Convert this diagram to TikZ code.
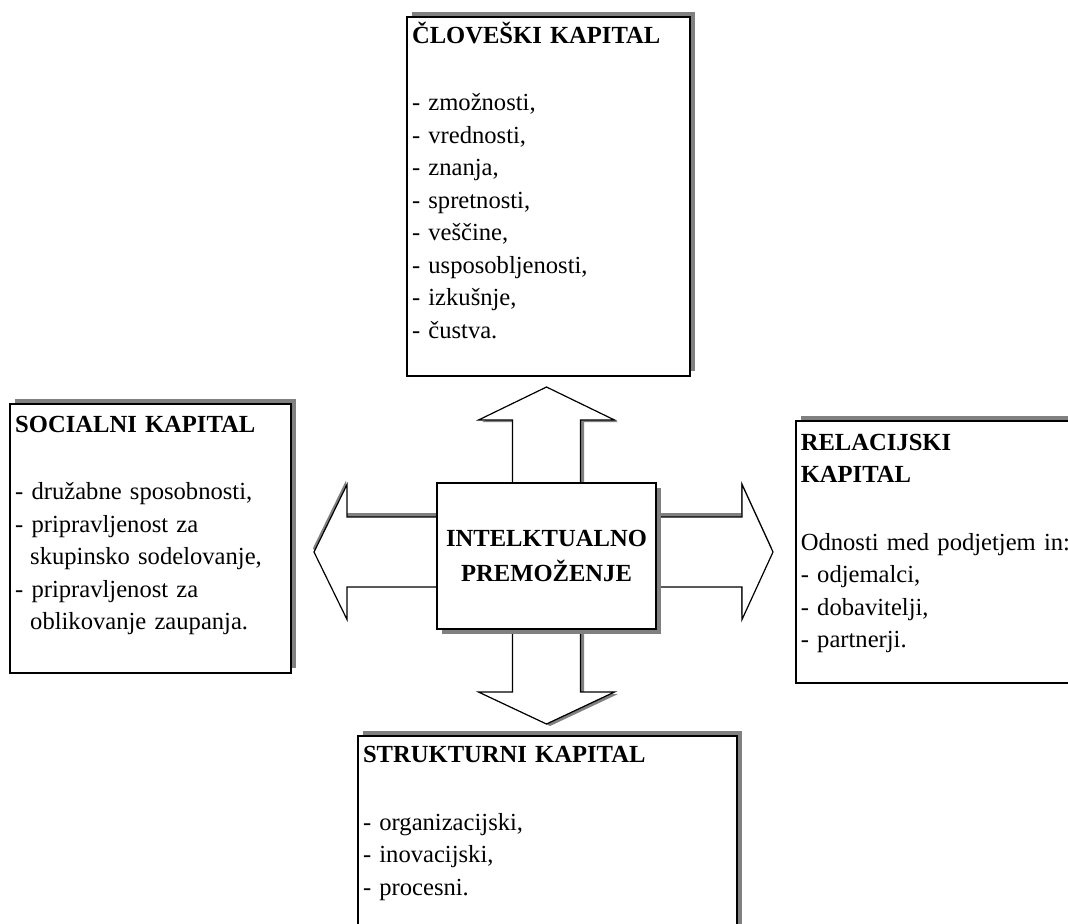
\documentclass[tikz,border=0pt]{standalone}
\usepackage{fontspec}
\setmainfont{Liberation Serif}
\usetikzlibrary{positioning,shadows,backgrounds}

\begin{document}
\begin{tikzpicture}[
        node distance=52.5pt and 70pt,
        capbox/.style={rectangle, draw=black, line width=0.9pt, fill=white, inner xsep=2.5pt, inner ysep=0pt, align=left, font=\fontsize{12.3pt}{16.25pt}\selectfont, drop shadow={shadow xshift=2.5pt, shadow yshift=2.5pt, fill=black!50, opacity=1}},
        midbox/.style={rectangle, draw=black, line width=0.9pt, fill=white, inner sep=0pt, minimum width=109.5pt, minimum height=73pt, align=center, font=\fontsize{12.3pt}{17.5pt}\selectfont\bfseries, drop shadow={shadow xshift=2.5pt, shadow yshift=-2.5pt, fill=black!50, opacity=1}},
        blockarrow/.style={draw=black, line width=0.6pt, fill=white, line join=miter}
    ]
        \useasboundingbox (0,0) rectangle (534pt,-461.5pt);

        % Nodes
        \node[midbox] (centre) at (273.25pt,-278pt) {INTELKTUALNO\\PREMOŽENJE};
        \node[capbox, text width=136.5pt, text height=13pt, text depth=166.5pt, above=of centre, xshift=1pt] (clovek) {\textbf{ČLOVEŠKI KAPITAL}\\[17.5pt]- zmožnosti,\\- vrednosti,\\- znanja,\\- spretnosti,\\- veščine,\\- usposobljenosti,\\- izkušnje,\\- čustva.};
        \node[capbox, text width=135.5pt, text height=14pt, text depth=120.5pt, left=72pt of centre, yshift=8.75pt] (socialni) {\textbf{SOCIALNI KAPITAL}\\[17.5pt]- družabne sposobnosti,\\- pripravljenost za\\\hspace*{7.5pt}skupinsko sodelovanje,\\- pripravljenost za\\\hspace*{7.5pt}oblikovanje zaupanja.};
        \node[capbox, text width=140pt, text height=14.5pt, text depth=116.5pt, right=69pt of centre, yshift=2pt] (relacijski) {\textbf{RELACIJSKI}\\\textbf{KAPITAL}\\[17.5pt]Odnosti med podjetjem in:\\- odjemalci,\\- dobavitelji,\\- partnerji.};
        \node[capbox, text width=184.5pt, text height=13.5pt, text depth=90pt, below=of centre, xshift=0.5pt] (strukturni) {\textbf{STRUKTURNI KAPITAL}\\[17.5pt]- organizacijski,\\- inovacijski,\\- procesni.};

        % Block arrows behind the centre box
        \begin{scope}[on background layer, shift={(centre.center)}]
            \draw[blockarrow, drop shadow={shadow xshift=1.75pt, shadow yshift=-1pt, fill=black!50, opacity=1}] (-17pt,0pt) -- (-17pt,68pt) -- (-34pt,68pt) -- (0pt,84.5pt) -- (34pt,68pt) -- (17pt,68pt) -- (17pt,-68pt) -- (34pt,-68pt) -- (0pt,-84pt) -- (-34pt,-68pt) -- (-17pt,-68pt) -- cycle;
            \draw[blockarrow, drop shadow={shadow xshift=-0.5pt, shadow yshift=2pt, fill=black!50, opacity=1}] (-99.75pt,19.5pt) -- (97.75pt,19.5pt) -- (97.75pt,35.75pt) -- (113.25pt,2pt) -- (97.75pt,-31.75pt) -- (97.75pt,-15.5pt) -- (-99.75pt,-15.5pt) -- (-99.75pt,-31.75pt) -- (-116.25pt,2pt) -- (-99.75pt,35.75pt) -- cycle;
        \end{scope}
    \end{tikzpicture}
\end{document}
